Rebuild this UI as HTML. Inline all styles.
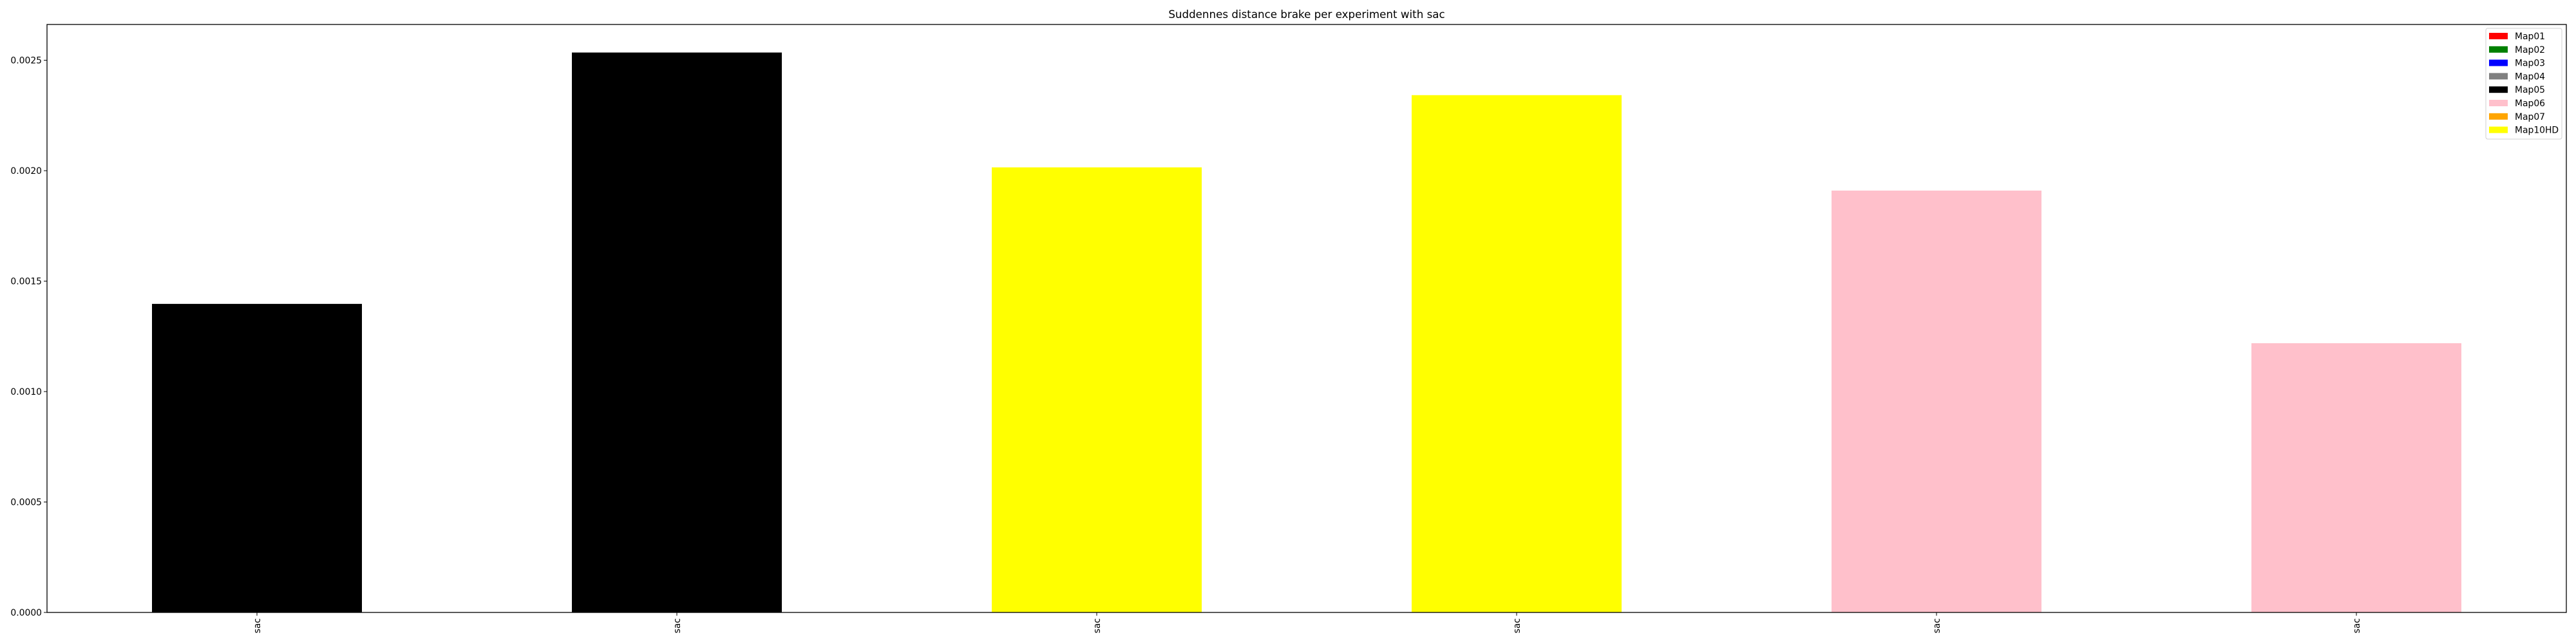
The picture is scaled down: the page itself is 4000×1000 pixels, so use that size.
<!DOCTYPE html>
<html><head><meta charset="utf-8"><style>
html,body{margin:0;padding:0;background:#fff}
svg{display:block;font-family:"DejaVu Sans","Liberation Sans",sans-serif}
</style></head><body>
<svg id="chart" width="4000" height="1000" viewBox="0 0 4000 1000">
<text x="2029" y="28" font-size="16.7" text-anchor="middle">Suddennes distance brake per experiment with sac</text>
<g id="bars"></g>
<g id="yaxis"></g>
<g id="xaxis"></g>
<rect x="73" y="38" width="3912" height="913" fill="none" stroke="#000" stroke-width="1.3"/>
<g id="legend"></g>
</svg>
<script>
const categories = ["sac","sac","sac","sac","sac","sac"];
const values = [0.001397, 0.002535, 0.002015, 0.002342, 0.00191, 0.001219];
const barColors = ["#000000","#000000","#ffff00","#ffff00","#ffc0cb","#ffc0cb"];
const yTicks = [0, 0.0005, 0.0010, 0.0015, 0.0020, 0.0025];
const yTickLabels = ["0.0000","0.0005","0.0010","0.0015","0.0020","0.0025"];
const legendLabels = ["Map01","Map02","Map03","Map04","Map05","Map06","Map07","Map10HD"];
const legendColors = ["#ff0000","#008000","#0000ff","#808080","#000000","#ffc0cb","#ffa500","#ffff00"];

const NS="http://www.w3.org/2000/svg";
const L=73,R=3985,T=38,B=951;
const yMax=0.002662;
function yS(v){return B-(v/yMax)*(B-T);}
const slot=(R-L)/categories.length;
function xS(i){return L+slot*(i+0.5);}
function mk(tag,attrs,parent){const e=document.createElementNS(NS,tag);for(const k in attrs)e.setAttribute(k,attrs[k]);parent.appendChild(e);return e;}

const gb=document.getElementById('bars');
values.forEach((v,i)=>{
  const w=slot*0.5;
  const r=mk('rect',{x:xS(i)-w/2,y:yS(v),width:w,height:B-yS(v),fill:barColors[i]},gb);
  
  
});
const gy=document.getElementById('yaxis');
yTicks.forEach((t,i)=>{
  const y=yS(t);
  const ln=mk('line',{x1:L-5,x2:L,y1:y,y2:y,stroke:'#000','stroke-width':1},gy);
  
  
  const tx=mk('text',{x:L-8,y:y+5,'font-size':13.9,'text-anchor':'end'},gy);
  tx.textContent=yTickLabels[i];
  
  
});
const gx=document.getElementById('xaxis');
categories.forEach((c,i)=>{
  const x=xS(i);
  const ln=mk('line',{x1:x,x2:x,y1:B,y2:B+5,stroke:'#000','stroke-width':1},gx);
  
  
  const tx=mk('text',{x:0,y:0,'font-size':13.9,'text-anchor':'end',transform:`translate(${x+5},${B+9}) rotate(-90)`},gx);
  tx.textContent=c;
  
  
});
const gl=document.getElementById('legend');
const box=mk('rect',{x:3860,y:44,width:118,height:172,rx:3,fill:'#fff',stroke:'#d0d0d0','stroke-width':1},gl);


legendLabels.forEach((lab,i)=>{
  const y=56+i*20.8;
  const p=mk('rect',{x:3865,y:y-5,width:29,height:10,fill:legendColors[i]},gl);
  
  
  const t=mk('text',{x:3905,y:y+5,'font-size':13.9},gl);
  t.textContent=lab;
  
  
});
</script>
</body></html>
